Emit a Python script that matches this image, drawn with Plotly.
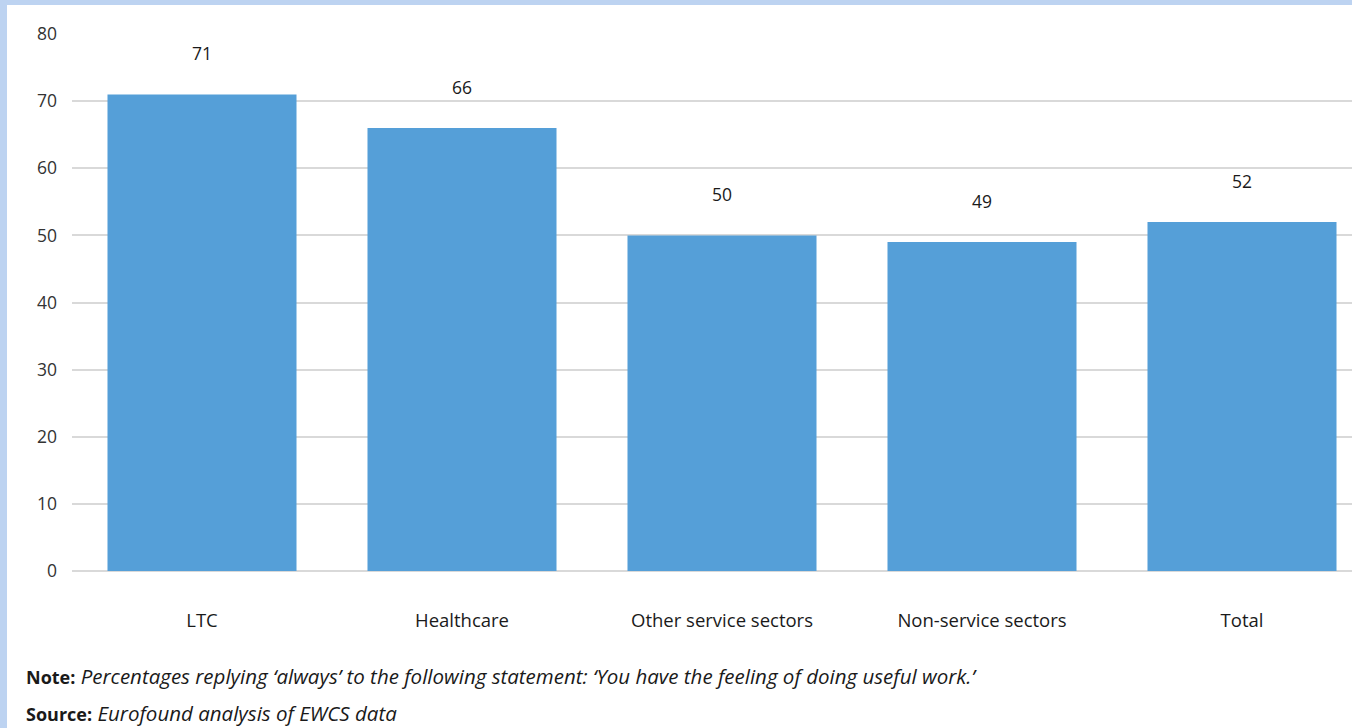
import plotly.graph_objects as go

# Share of workers who always feel they do useful work, by sector (%)
categories = ["LTC", "Healthcare", "Other service sectors", "Non-service sectors", "Total"]
values = [71, 66, 50, 49, 52]
y_ticks = [0, 10, 20, 30, 40, 50, 60, 70, 80]

BAR_COLOR = "#559fd8"
FRAME_COLOR = "#bdd3f1"
GRID_COLOR = "#d9d9d9"
FONT = "Open Sans"
TEXT = "#1a1a1a"

W, H = 1352, 728
M_L, M_R, M_T, M_B = 72, 0, 34, 157
pw = W - M_L - M_R
ph = H - M_T - M_B

fig = go.Figure()
fig.add_trace(go.Bar(
    x=categories,
    y=values,
    marker=dict(color=BAR_COLOR, line=dict(width=0)),
    width=0.727,
    hoverinfo="x+y",
))

# value labels above each bar
for c, v in zip(categories, values):
    fig.add_annotation(
        x=c, y=v, text=str(v), showarrow=False,
        yanchor="middle", yshift=41,
        font=dict(family=FONT, size=17.5, color=TEXT),
    )

# note and source lines beneath the chart
def footer(text, py):
    fig.add_annotation(
        xref="paper", yref="paper",
        x=-(M_L - 24) / pw, y=-(py - (H - M_B)) / ph,
        xanchor="left", yanchor="middle", showarrow=False, align="left",
        text=text,
        font=dict(family=FONT, size=20.5, color=TEXT),
    )

footer("<span style='font-size:18px'><b>Note:</b></span> "
       "<i>Percentages replying \u2018always\u2019 to the following statement: "
       "\u2018You have the feeling of doing useful work.\u2019</i>", 676)
footer("<span style='font-size:18px'><b>Source:</b></span> "
       "<i>Eurofound analysis of EWCS data</i>", 713)

# light blue frame along the left and top edges of the page
fig.add_shape(type="rect", xref="paper", yref="paper", layer="above",
              x0=-M_L / pw, x1=-(M_L - 7) / pw, y0=-M_B / ph, y1=(ph + M_T) / ph,
              fillcolor=FRAME_COLOR, line=dict(width=0))
fig.add_shape(type="rect", xref="paper", yref="paper", layer="above",
              x0=-M_L / pw, x1=1, y0=(ph + M_T - 5) / ph, y1=(ph + M_T) / ph,
              fillcolor=FRAME_COLOR, line=dict(width=0))

fig.update_layout(
    width=W, height=H,
    margin=dict(l=M_L, r=M_R, t=M_T, b=M_B, pad=0),
    paper_bgcolor="white",
    plot_bgcolor="white",
    showlegend=False,
    font=dict(family=FONT, color=TEXT),
    xaxis=dict(
        range=[-0.5, -0.5 + pw / 260],
        showgrid=False, zeroline=False, showline=False,
        ticks="", ticklabelstandoff=36,
        tickfont=dict(family=FONT, size=18.5, color=TEXT),
        fixedrange=True,
    ),
    yaxis=dict(
        range=[0, 80],
        tickvals=y_ticks,
        showgrid=True, gridcolor=GRID_COLOR, gridwidth=1.5,
        zeroline=True, zerolinecolor=GRID_COLOR, zerolinewidth=1.5,
        showline=False, ticks="", ticklabelstandoff=14,
        tickfont=dict(family=FONT, size=17.5, color="#333333"),
        fixedrange=True,
    ),
)

fig.write_html("out.html")
